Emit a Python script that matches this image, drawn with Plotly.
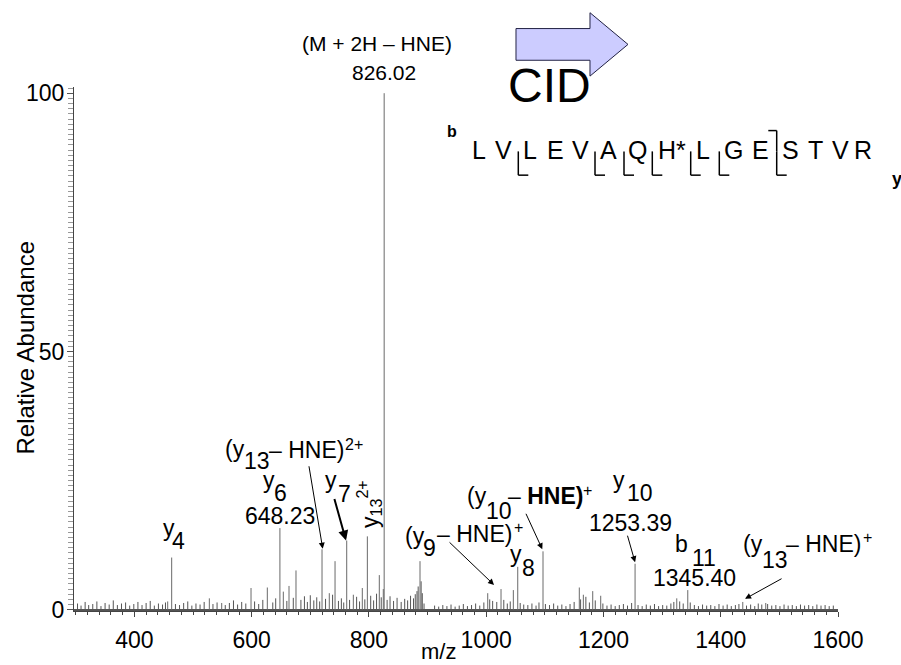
import plotly.graph_objects as go

# ---------------- data ----------------
peak_mz = [456.8, 463.6, 527.8, 548.9, 598.9, 626.7, 648.2, 654.0, 663.7, 675.6,
           720.0, 732.4, 742.2, 762.1, 773.4, 788.7, 797.3, 817.7, 824.5, 826.0,
           887.1, 1002.6, 1025.3, 1046.3, 1053.8, 1096.9, 1158.8, 1165.7, 1181.7,
           1195.3, 1253.9, 1325.0, 1343.8, 1437.6, 1476.8]
peak_int = [1.6, 10.1, 2.2, 1.3, 4.2, 4.3, 15.8, 3.5, 4.6, 7.6,
            11.7, 3.2, 9.4, 13.4, 2.9, 4.2, 14.2, 6.7, 4.0, 100,
            9.4, 3.2, 4.0, 3.8, 8.3, 11.3, 4.3, 2.9, 3.6,
            2.7, 8.9, 2.2, 3.8, 1.5, 1.3]

noise_mz = [303, 309, 316, 322, 329, 336, 343, 350, 357, 364, 371, 378, 385, 392, 399,
            406, 413, 420, 427, 434, 441, 448, 453, 470, 477, 484, 491, 498, 505, 512,
            519, 534, 541, 555, 562, 569, 576, 583, 590, 605, 612, 619, 636, 641, 660,
            671, 684, 690, 695, 700, 706, 711, 716, 726, 738, 748, 753, 757, 767, 779,
            784, 793, 803, 808, 813, 821, 831, 836, 842, 848, 855, 861, 866, 871, 876,
            879, 882, 884, 889, 891, 894,
            912, 919, 926, 933, 940, 947, 954, 961, 968, 975, 982, 989, 996, 1006, 1011,
            1018, 1030, 1036, 1041, 1058, 1064, 1071, 1078, 1085, 1090, 1101, 1108, 1115,
            1122, 1129, 1136, 1143, 1150, 1161, 1170, 1176, 1186, 1199, 1206, 1213, 1220,
            1227, 1234, 1241, 1248, 1259, 1266, 1273, 1280, 1287, 1294, 1301, 1308, 1315,
            1320, 1330, 1336, 1348, 1355, 1362, 1369, 1376, 1383, 1390, 1397, 1404, 1411,
            1418, 1425, 1431, 1444, 1451, 1458, 1464, 1470, 1480, 1487, 1494, 1501, 1508,
            1515, 1522, 1529, 1536, 1543, 1550, 1557, 1564, 1571, 1578, 1585, 1592]
noise_int = [1.2, 0.8, 1.5, 0.9, 1.1, 1.6, 0.7, 1.3, 1.0, 1.8, 0.9, 1.2, 1.4, 0.8, 1.1,
             1.5, 0.9, 1.3, 1.7, 0.8, 1.2, 1.0, 1.4, 1.1, 0.9, 1.3, 1.6, 0.8, 1.2, 1.0,
             1.5, 1.1, 1.4, 0.9, 1.3, 1.8, 1.0, 1.5, 1.2, 1.6, 1.1, 1.9, 1.4, 2.2, 1.7,
             2.3, 1.9, 2.6, 1.5, 2.8, 1.8, 2.4, 1.6, 2.1, 2.9, 1.7, 2.2, 1.4, 1.9, 2.5,
             1.6, 2.0, 2.7, 1.8, 3.1, 2.4, 1.9, 2.6, 1.7, 2.3, 1.5, 2.1, 1.8, 2.7, 2.2,
             3.0, 3.6, 4.5, 5.5, 3.2, 1.2,
             0.8, 0.6, 0.9, 0.7, 1.0, 0.6, 0.8, 1.1, 0.7, 0.9, 1.2, 0.8, 1.4, 2.0, 1.7,
             1.5, 1.9, 1.2, 1.6, 1.3, 1.0, 0.9, 1.2, 0.8, 1.4, 1.1, 0.9, 1.2,
             0.8, 1.0, 0.7, 1.1, 1.5, 2.0, 2.5, 1.4, 1.8, 1.2, 0.8, 1.0, 0.7,
             0.9, 1.1, 0.8, 1.3, 0.9, 0.7, 1.0, 0.8, 1.1, 0.7, 0.9, 0.8, 1.2,
             1.5, 1.6, 1.2, 1.4, 0.9, 0.7, 1.0, 0.8, 0.9, 0.7, 1.1, 0.8, 1.0,
             0.7, 0.9, 1.1, 0.8, 1.0, 0.7, 1.2, 1.0, 1.1, 0.8, 0.9, 0.7, 1.0,
             0.8, 0.9, 0.7, 1.0, 0.8, 0.9, 0.7, 1.0, 0.8, 0.9, 0.7, 0.8]

x_tick_vals = [400, 600, 800, 1000, 1200, 1400, 1600]
x_tick_text = ["400", "600", "800", "1000", "1200", "1400", "1600"]
y_tick_vals = [0, 50, 100]
y_tick_text = ["0", "50", "100"]

sequence = ["L", "V", "L", "E", "V", "A", "Q", "H*", "L", "G", "E", "S", "T", "V", "R"]

# ---------------- layout geometry ----------------
W, H = 901, 665
ML, MR, MT, MB = 74, 63, 87, 49
PW, PH = W - ML - MR, H - MT - MB
FONT = "Liberation Sans, Arial, sans-serif"


def pp(px, py):
    """pixel -> paper coordinates"""
    return (px - ML) / PW, (H - MB - py) / PH


def sticks(mz, inten):
    xs, ys = [], []
    for m, h in zip(mz, inten):
        xs += [m, m, None]
        ys += [0, h, None]
    return xs, ys


fig = go.Figure()
nx, ny = sticks(noise_mz, noise_int)
fig.add_trace(go.Scatter(x=nx, y=ny, mode="lines", line=dict(color="#555555", width=1),
                         hoverinfo="skip"))
px_, py_ = sticks(peak_mz, peak_int)
fig.add_trace(go.Scatter(x=px_, y=py_, mode="lines", line=dict(color="#6a6a6a", width=1),
                         hoverinfo="skip"))

annotations = []
shapes = []


def label(text, px, py, size=23, xanchor="left", angle=0, yanchor="middle"):
    x, y = pp(px, py)
    annotations.append(dict(text=text, x=x, y=y, xref="paper", yref="paper",
                            xanchor=xanchor, yanchor=yanchor, showarrow=False,
                            borderpad=0, borderwidth=0,
                            textangle=angle, font=dict(family=FONT, size=size, color="black")))


def arrow(xd, yd, ax, ay, width=1, size=1.2):
    annotations.append(dict(text="", x=xd, y=yd, xref="x", yref="y", ax=ax, ay=ay,
                            showarrow=True, arrowhead=2, arrowsize=size,
                            arrowwidth=width, arrowcolor="black"))


HNE_W = 75  # width of "– HNE)" at 23 px

# precursor
label("(M + 2H – HNE)", 377, 43, size=21, xanchor="center")
label("826.02", 384, 72, size=21, xanchor="center")

# (y13 – HNE)2+
label("(y", 225, 452)
label("13", 244, 465)
label("– HNE)", 269, 453)
label("2+", 269 + HNE_W + 1, 448, size=16)
arrow(721.2, 11.8, -14, -84)

# y6
label("y", 263, 484)
label("6", 274, 497)
label("648.23", 280, 520, xanchor="center")

# y4
label("y", 163, 532)
label("4", 172, 545)

# y7
label("y", 325, 484)
label("7", 338, 498)
arrow(760.9, 13.4, -12, -43, width=2, size=1.0)

# y13 2+ (rotated)
label("y<sub>13</sub><sup>2+</sup>", 369, 508, xanchor="center", angle=-90)

# (y9 – HNE)+
label("(y", 405, 540)
label("9", 423, 552)
label("– HNE)", 437, 538)
label("+", 437 + HNE_W + 2, 532, size=16)
arrow(1013.4, 4.8, -46, -44)

# (y10 – HNE)+
label("(y", 467, 500)
label("10", 486, 515)
label("– <b>HNE)</b>", 508, 500)
label("+", 508 + HNE_W + 0, 494, size=16)
arrow(1095.7, 11.7, -17, -37)

# y10
label("y", 613, 484)
label("10", 627, 497)
label("1253.39", 630, 527, xanchor="center")
arrow(1253.9, 9.2, -8, -28)

# y8
label("y", 510, 558)
label("8", 522, 573)

# b11
label("b", 675, 548)
label("11", 692, 562)
label("1345.40", 694, 583, xanchor="center")

# (y13 – HNE)+
label("(y", 743, 548)
label("13", 762, 565)
label("– HNE)", 786, 548)
label("+", 786 + HNE_W + 2, 542, size=16)
arrow(1441.5, 2.1, 38, -21)

# axis titles
label("Relative Abundance", 26, 350, size=24, xanchor="center", angle=-90)
label("m/z", 438, 657, size=22, xanchor="center")

# CID block arrow
pts = [(516, 28), (590, 28), (590, 12), (628, 44), (590, 76), (590, 60), (516, 60)]
path = "M " + " L ".join(f"{pp(a, b)[0]:.5f},{pp(a, b)[1]:.5f}" for a, b in pts) + " Z"
shapes.append(dict(type="path", path=path, xref="paper", yref="paper",
                   fillcolor="#ccccff", line=dict(color="#222244", width=1)))
label("CID", 549, 85, size=48, xanchor="center")

# peptide sequence
seq_x = [479, 503, 530, 555, 580, 608, 637, 672, 703, 733, 760, 790, 815, 840, 863]
for aa, sx in zip(sequence, seq_x):
    label(aa, sx, 151, size=25, xanchor="center")
label("<b>b</b>", 452, 132, size=16, xanchor="center")
label("<b>y</b>", 892, 180, size=18, xanchor="left")


def seg(x0, y0, x1, y1):
    a0, b0 = pp(x0, y0)
    a1, b1 = pp(x1, y1)
    shapes.append(dict(type="line", x0=a0, y0=b0, x1=a1, y1=b1, xref="paper", yref="paper",
                       line=dict(color="black", width=1.5)))


for bx in [518.3, 595, 624, 652.3, 690.7, 719.3, 776.7]:
    seg(bx, 152, bx, 176)
    seg(bx, 176, bx + 10, 176)
seg(768.3, 131, 776.7, 131)
seg(776.7, 131, 776.7, 152)

fig.update_layout(
    width=W, height=H, margin=dict(l=ML, r=MR, t=MT, b=MB),
    paper_bgcolor="white", plot_bgcolor="white", showlegend=False,
    font=dict(family=FONT, color="black"),
    annotations=annotations, shapes=shapes,
    xaxis=dict(range=[297, 1600], tickmode="array", tickvals=x_tick_vals, ticktext=x_tick_text,
               ticks="outside", ticklen=5, tickcolor="#444", showline=True, linecolor="#444",
               showgrid=False, zeroline=False, tickfont=dict(size=23, family=FONT),
               ticklabelstandoff=3,
               minor=dict(dtick=20, ticks="outside", ticklen=3, tickcolor="#444", showgrid=False)),
    yaxis=dict(range=[-0.25, 101.2], tickmode="array", tickvals=y_tick_vals, ticktext=y_tick_text,
               ticks="outside", ticklen=6, tickcolor="#555", showline=True, linecolor="#444",
               showgrid=False, zeroline=True, zerolinecolor="#555", zerolinewidth=2,
               tickfont=dict(size=23, family=FONT), ticklabelstandoff=-2,
               minor=dict(dtick=1, ticks="outside", ticklen=5, tickcolor="#999", showgrid=False)),
)

fig.write_html("out.html")
